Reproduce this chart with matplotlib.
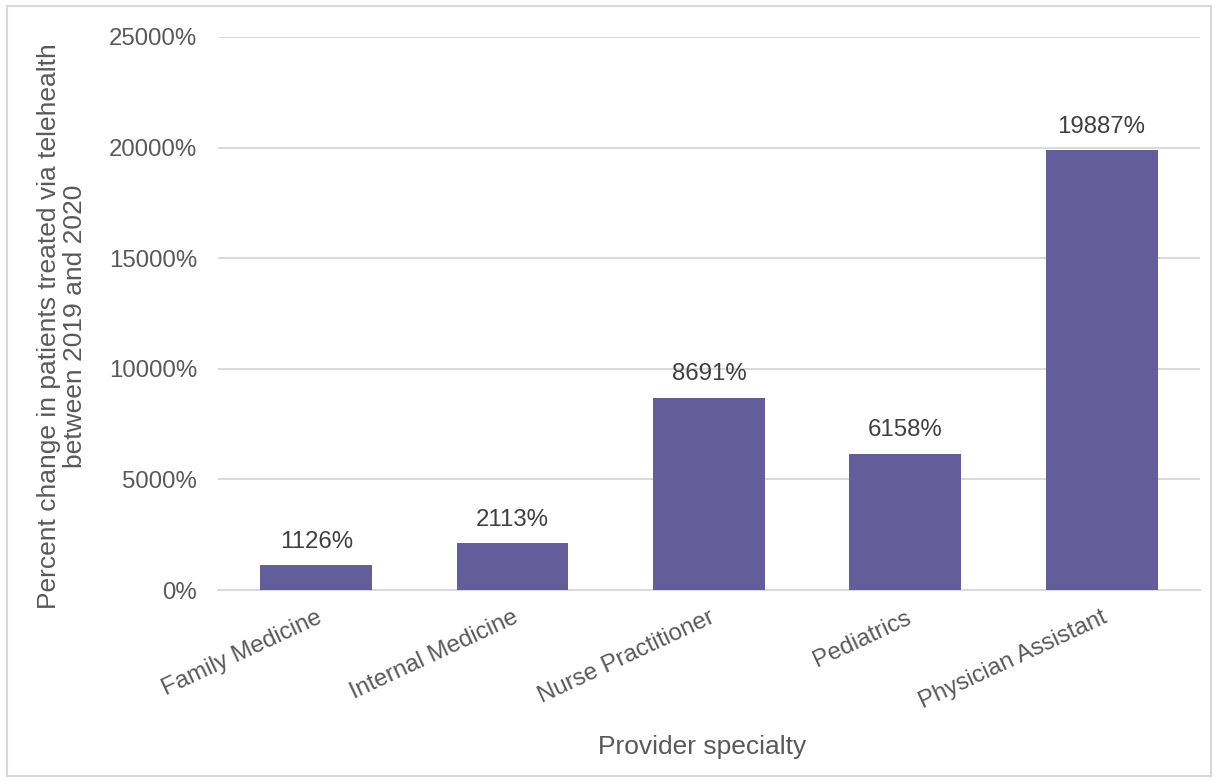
import matplotlib
matplotlib.use("Agg")
import matplotlib.pyplot as plt
from matplotlib.patches import Rectangle
from matplotlib.ticker import FuncFormatter

plt.rcParams['font.family'] = ['Liberation Sans', 'DejaVu Sans']

specialties = ["Family Medicine", "Internal Medicine", "Nurse Practitioner",
               "Pediatrics", "Physician Assistant"]
pct_change = [1126, 2113, 8691, 6158, 19887]
y_ticks = [0, 5000, 10000, 15000, 20000, 25000]

TEXT = "#595959"
GRID = "#D9D9D9"
BAR = "#635E9B"

fig = plt.figure(figsize=(12.18, 7.82), dpi=100)
ax = fig.add_axes([0.179, 0.2455, 0.806, 0.7072])

x = range(len(specialties))
bars = ax.bar(x, pct_change, width=0.57, color=BAR, zorder=3)
for b, v in zip(bars, pct_change):
    ax.annotate(f"{v}%", (b.get_x() + b.get_width() / 2, v),
                xytext=(0, 9), textcoords="offset points",
                ha="center", va="bottom", fontsize=17.3, color="#404040")

ax.set_xlim(-0.5, len(specialties) - 0.5)
ax.set_ylim(0, 25000)
ax.set_yticks(y_ticks)
ax.yaxis.set_major_formatter(FuncFormatter(lambda v, p: f"{int(v)}%"))
ax.grid(axis='y', color=GRID, linewidth=1.4, zorder=0)
for s in ['top', 'right', 'left']:
    ax.spines[s].set_visible(False)
ax.spines['bottom'].set_color(GRID)
ax.spines['bottom'].set_linewidth(1.4)
ax.tick_params(axis='both', length=0, labelsize=17.3, colors=TEXT)
ax.tick_params(axis='y', pad=15)
ax.set_xticks(list(x))
ax.set_xticklabels(specialties, rotation=25, ha='right',
                   rotation_mode='anchor')
ax.tick_params(axis='x', pad=12)
ax.set_xlabel("Provider specialty", fontsize=19, color=TEXT, va='center')
ax.xaxis.set_label_coords(0.493, -0.284)
ax.set_ylabel("Percent change in patients treated via telehealth\nbetween 2019 and 2020",
              fontsize=19, color=TEXT, linespacing=1.15, va='center')
ax.yaxis.set_label_coords(-0.159, 0.477)

fig.patches.append(Rectangle((0.006, 0.008), 0.988, 0.984,
                             transform=fig.transFigure, fill=False,
                             edgecolor=GRID, linewidth=1.5))

fig.savefig("out.png", dpi=100)
